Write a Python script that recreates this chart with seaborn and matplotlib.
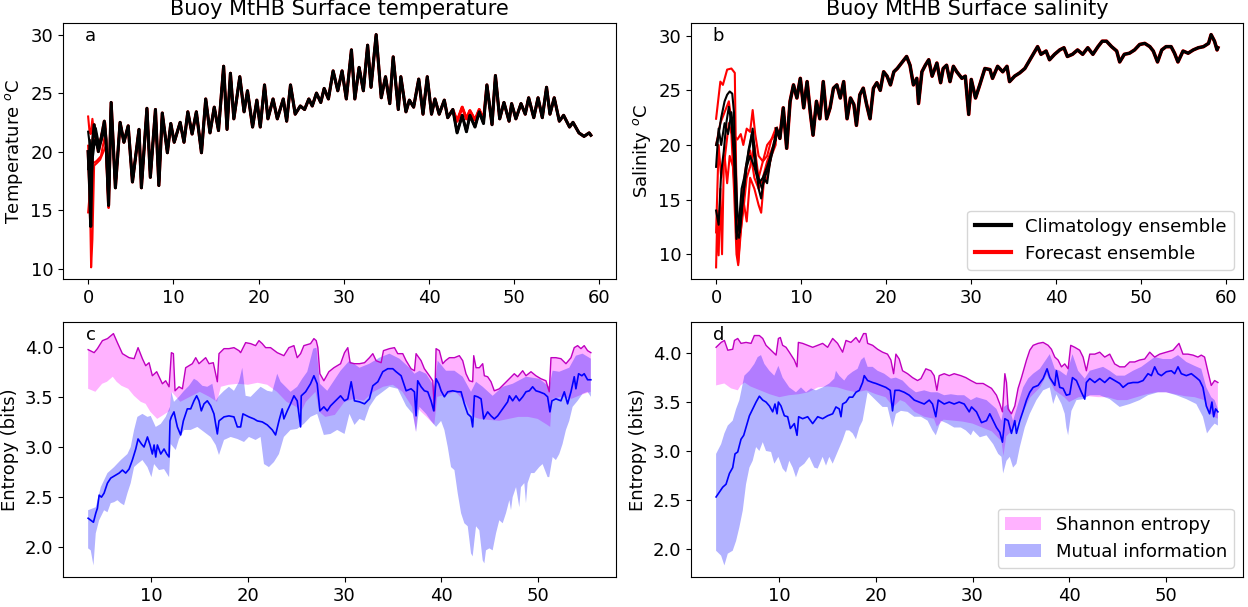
import numpy as np
import matplotlib
matplotlib.use("Agg")
import matplotlib.pyplot as plt
import seaborn as sns
from matplotlib.lines import Line2D
from matplotlib.patches import Patch

plt.rcParams["font.family"] = ["DejaVu Sans"]
plt.rcParams["font.size"] = 13

# ---------------- Panel a: surface temperature ----------------
temp_x = [0.0, 0.15, 0.3, 0.5, 0.7, 1.0, 1.2, 1.5, 1.9, 2.1, 2.4, 2.7, 3.2, 3.75, 4.2, 4.7, 5.2, 5.97, 6.25, 6.9,
          7.3, 7.9, 8.3, 8.7, 9.3, 9.7, 10.1, 10.8, 11.25, 11.7, 12.2, 12.7, 13.3, 13.8, 14.3, 14.8, 15.3, 15.9, 16.3, 16.7,
          17.1, 17.8, 18.3, 18.7, 19.3, 19.8, 20.2, 20.7, 21.1, 21.7, 22.2, 22.9, 23.3, 23.75, 24.3, 24.9, 25.4, 25.9, 26.3, 26.8,
          27.3, 27.7, 28.2, 28.75, 29.3, 29.8, 30.3, 30.9, 31.3, 31.8, 32.3, 32.8, 33.2, 33.8, 34.4, 34.9, 35.4, 35.8, 36.4, 36.7,
          37.3, 37.7, 38.2, 38.8, 39.3, 39.8, 40.3, 40.7, 41.2, 41.8, 42.2, 42.8, 43.3, 43.9, 44.4, 44.8, 45.4, 45.9, 46.4, 46.8,
          47.4, 47.8, 48.3, 48.8, 49.4, 49.7, 50.2, 50.8, 51.3, 51.7, 52.3, 52.8, 53.3, 53.8, 54.2, 54.7, 55.3, 55.8, 56.5, 56.9,
          57.6, 58.2, 58.8, 59.0]
temp_clim = [20.0, 17.5, 13.6, 20.5, 22.3, 21.0, 20.0, 21.0, 22.6, 21.0, 15.4, 24.2, 16.9, 22.5, 20.8, 22.2, 17.4, 21.9, 16.9, 23.7,
             17.8, 23.6, 17.1, 23.3, 19.9, 22.4, 20.8, 22.5, 20.8, 23.4, 21.5, 23.4, 19.9, 24.5, 21.6, 23.8, 21.8, 27.3, 21.9, 26.7,
             22.8, 26.4, 23.4, 25.2, 22.1, 24.4, 22.1, 25.7, 22.8, 24.5, 22.8, 24.5, 22.6, 25.7, 23.2, 23.9, 23.6, 24.5, 23.9, 25.0,
             24.2, 25.4, 24.5, 26.9, 25.2, 26.9, 24.5, 28.7, 24.5, 27.2, 25.2, 29.1, 25.5, 30.0, 24.6, 26.4, 24.1, 28.1, 23.6, 26.4,
             23.4, 24.4, 23.8, 26.2, 23.2, 26.4, 23.2, 24.5, 23.2, 24.4, 22.9, 23.6, 21.6, 23.1, 21.7, 23.1, 22.1, 23.4, 22.4, 25.7,
             22.3, 26.5, 22.8, 24.2, 22.6, 24.1, 22.8, 24.1, 23.2, 24.6, 22.9, 24.6, 22.9, 25.5, 23.2, 24.6, 22.6, 23.1, 22.1, 22.5,
             21.6, 21.3, 21.6, 21.4]
# forecast ensemble differs from climatology between days 43 and 47
temp_fcst_patch_x = [42.8, 43.3, 43.9, 44.4, 44.8, 45.4, 45.9, 46.4, 46.8]
temp_fcst_patch_y = [23.6, 22.6, 23.8, 22.8, 23.5, 22.7, 23.6, 22.7, 25.7]
# early-time ensemble members (first days, before members converge)
temp_clim_b_x = [0.0, 0.2, 0.4, 0.6, 0.9, 1.3, 1.7, 2.1, 2.4]
temp_clim_b_y = [21.7, 20.5, 19.0, 21.5, 22.0, 20.5, 21.8, 21.2, 15.4]
temp_clim_c_x = [0.0, 0.2, 0.35, 0.55, 0.8, 1.1, 1.5, 2.0, 2.4]
temp_clim_c_y = [18.5, 21.0, 17.0, 19.5, 21.0, 20.3, 20.8, 22.0, 15.4]
temp_fcst_a_x = [0.0, 0.15, 0.3, 0.5, 0.8, 1.2, 1.6, 2.0, 2.4]
temp_fcst_a_y = [23.0, 21.8, 21.5, 22.8, 21.0, 20.2, 21.5, 22.5, 15.2]
temp_fcst_b_x = [0.0, 0.2, 0.35, 0.5, 0.7, 1.0, 1.4, 1.8, 2.1, 2.4]
temp_fcst_b_y = [14.8, 16.5, 10.1, 12.5, 18.8, 19.0, 19.3, 20.0, 20.5, 15.2]
temp_fcst_c_x = [0.0, 0.2, 0.4, 0.6, 1.0, 1.5, 2.0, 2.4]
temp_fcst_c_y = [20.5, 17.0, 19.5, 19.0, 19.2, 19.6, 21.5, 15.2]

# ---------------- Panel b: surface salinity ----------------
sal_x = [7.1, 7.5, 7.9, 8.3, 8.7, 9.1, 9.5, 9.9, 10.3, 10.7, 11.1, 11.4, 11.8, 12.2, 12.6, 13.0, 13.4, 13.8, 14.2, 14.6,
         15.0, 15.4, 15.8, 16.2, 16.5, 16.9, 17.3, 17.7, 18.1, 18.5, 18.9, 19.3, 19.7, 20.1, 20.5, 20.9, 21.3, 21.8, 22.4, 22.8,
         23.2, 23.6, 23.8, 24.2, 24.6, 25.0, 25.4, 25.96, 26.4, 26.7, 27.1, 27.5, 27.9, 28.3, 28.9, 29.3, 29.7, 30.0, 30.5, 31.0,
         31.6, 32.2, 32.5, 33.1, 33.7, 34.2, 34.5, 35.1, 35.7, 36.3, 36.9, 37.5, 37.8, 38.2, 38.8, 39.2, 39.8, 40.4, 40.9, 41.3,
         41.9, 42.5, 43.1, 43.7, 44.3, 44.9, 45.4, 45.9, 46.5, 47.1, 47.45, 48.0, 48.6, 49.2, 49.8, 50.4, 51.0, 51.4, 51.9, 52.4,
         52.9, 53.5, 53.9, 54.3, 54.9, 55.5, 56.1, 56.7, 57.3, 57.9, 58.2, 58.6, 58.9, 59.0]
sal_clim = [21.5, 20.6, 23.4, 19.7, 24.0, 25.5, 24.3, 26.1, 23.4, 25.8, 22.8, 20.9, 24.0, 22.4, 25.8, 22.4, 23.4, 25.2, 25.5, 24.3,
            25.8, 22.4, 24.3, 23.7, 21.8, 24.6, 25.2, 23.7, 22.4, 25.2, 25.7, 25.0, 26.7, 26.3, 25.5, 26.7, 27.0, 27.5, 28.1, 27.3,
            25.5, 26.1, 23.8, 26.7, 27.3, 27.8, 26.3, 27.5, 25.7, 27.0, 27.3, 25.8, 27.2, 26.7, 26.1, 26.3, 22.8, 26.0, 24.3, 25.5,
            27.0, 26.9, 26.1, 27.2, 26.7, 27.2, 25.8, 26.3, 26.6, 27.0, 27.8, 28.6, 29.0, 28.3, 28.6, 27.8, 28.3, 28.7, 28.9, 28.1,
            28.3, 28.7, 28.3, 28.9, 28.3, 29.0, 29.5, 29.5, 29.0, 28.6, 27.6, 28.3, 28.4, 28.7, 29.2, 29.3, 29.0, 28.6, 27.6, 28.7,
            29.0, 29.0, 28.4, 27.6, 28.6, 28.4, 28.7, 28.9, 29.0, 29.3, 30.1, 29.5, 28.7, 28.9]
# early members (days 0-7)
sal_fcst_1_x = [0.0, 0.5, 0.8, 1.3, 1.8, 2.2, 2.35, 2.6, 2.8, 3.2, 3.6, 4.0, 4.5, 5.0, 5.5, 6.0, 6.5, 7.0]
sal_fcst_1_y = [22.4, 25.8, 25.5, 26.9, 27.0, 26.6, 18.0, 9.2, 11.5, 14.0, 17.0, 18.0, 20.0, 17.0, 18.5, 19.0, 20.5, 21.0]
sal_fcst_2_x = [0.0, 0.15, 0.3, 0.5, 0.7, 0.9, 1.2, 1.5, 1.8, 2.1, 2.4, 2.6, 2.9, 3.2, 3.6, 4.0, 4.5, 5.0, 5.3, 5.6, 6.0, 6.5, 7.0]
sal_fcst_2_y = [8.8, 14.0, 9.9, 16.0, 10.0, 18.0, 20.0, 22.0, 21.0, 16.0, 10.0, 9.0, 12.0, 15.0, 13.0, 17.0, 16.0, 14.5, 13.8, 16.5, 17.0, 19.0, 20.0]
sal_fcst_3_x = [0.0, 0.5, 1.0, 1.5, 2.0, 2.5, 2.9, 3.2, 3.6, 4.0, 4.3, 4.6, 5.0, 5.5, 6.0, 6.5, 7.0]
sal_fcst_3_y = [20.0, 22.0, 23.0, 24.0, 21.0, 20.5, 21.0, 20.0, 21.5, 21.2, 23.2, 21.0, 19.0, 18.5, 20.0, 20.5, 21.5]
sal_fcst_4_x = [0.0, 0.3, 0.6, 1.0, 1.3, 1.6, 2.0, 2.4, 2.7, 3.0, 3.5, 4.0, 4.5, 5.0, 5.5, 6.0, 7.0]
sal_fcst_4_y = [12.0, 20.0, 17.0, 19.0, 16.5, 19.0, 18.0, 14.0, 11.0, 15.0, 18.0, 19.5, 17.0, 16.0, 17.0, 18.5, 20.5]
sal_clim_1_x = [0.0, 0.3, 0.6, 1.0, 1.3, 1.6, 1.9, 2.1, 2.4, 2.7, 3.0, 3.3, 3.6, 4.0, 4.3, 4.6, 5.0, 5.3, 5.6, 6.0, 6.4, 7.0]
sal_clim_1_y = [20.0, 21.0, 22.5, 24.0, 24.6, 24.9, 24.7, 23.0, 11.4, 13.0, 16.0, 17.0, 18.5, 20.0, 21.5, 19.0, 16.0, 15.1, 17.0, 16.5, 18.8, 21.0]
sal_clim_2_x = [0.0, 0.3, 0.6, 0.9, 1.2, 1.5, 1.8, 2.1, 2.4, 2.7, 3.0, 3.4, 3.8, 4.2, 4.6, 5.0, 5.4, 5.8, 6.2, 7.0]
sal_clim_2_y = [14.0, 12.7, 17.5, 19.4, 22.0, 23.5, 22.0, 19.0, 12.0, 11.5, 14.0, 16.9, 19.5, 21.0, 18.0, 17.0, 16.0, 17.2, 18.0, 20.5]
sal_clim_3_x = [0.0, 0.3, 0.6, 1.0, 1.4, 1.8, 2.2, 2.5, 2.8, 3.2, 3.6, 4.0, 4.5, 5.0, 5.5, 6.0, 7.0]
sal_clim_3_y = [18.0, 21.5, 20.0, 22.0, 21.0, 23.0, 20.0, 14.0, 12.0, 15.5, 18.0, 19.0, 18.0, 16.5, 17.0, 18.0, 20.5]

# ---------------- Panel c: temperature entropy ----------------
c_H_up_x = [3.45, 4.07, 4.41, 4.93, 5.45, 6.07, 6.48, 7.0, 7.69, 8.21, 8.62, 9.07, 9.41, 9.76, 10.1, 10.55, 11.14, 11.48, 11.83, 12.07,
            12.28, 12.45, 12.86, 13.21, 13.55, 13.9, 14.24, 14.59, 14.93, 15.28, 15.62, 15.97, 16.41, 16.83, 17.0, 17.52, 18.03, 18.55, 19.07, 19.24,
            19.76, 20.28, 20.79, 21.14, 21.48, 21.83, 22.34, 23.03, 23.72, 24.24, 24.76, 25.1, 25.45, 25.79, 26.48, 26.83, 27.07, 27.24, 27.45, 27.86,
            28.38, 28.9, 29.59,
            30.0, 30.34, 30.58, 31.03, 31.55, 32.07, 32.58, 32.93, 33.27, 33.79, 34.03, 34.65, 35.17, 35.51, 36.03, 36.38, 36.89, 37.24, 37.41, 37.93,
            38.27, 38.79, 39.14, 39.31, 39.48, 39.82, 40.17, 40.45, 40.86, 41.38, 41.89, 42.24, 42.58, 42.93, 43.27, 43.38, 43.62, 43.96, 44.31, 44.48,
            44.82, 45.17, 45.51, 46.03, 46.55, 47.07, 47.58, 47.93, 48.45, 48.79, 49.31, 49.82, 50.34, 50.86, 51.2, 51.38, 51.89, 52.41, 52.93, 53.45,
            53.79, 54.14, 54.48, 54.82, 55.17, 55.51]
c_H_up_y = [3.97, 3.94, 3.98, 4.06, 4.08, 4.13, 4.04, 3.93, 3.89, 3.88, 3.99, 3.88, 3.81, 3.84, 3.71, 3.75, 3.63, 3.66, 3.60, 3.94,
            3.93, 3.56, 3.60, 3.58, 3.79, 3.81, 3.83, 3.89, 3.83, 3.86, 3.89, 3.83, 3.84, 3.65, 3.93, 3.98, 3.98, 3.99, 3.96, 3.94,
            4.04, 4.03, 4.01, 4.06, 4.03, 3.99, 3.99, 3.94, 3.91, 3.99, 4.01, 3.89, 3.93, 4.01, 4.03, 4.08, 4.06, 3.99, 3.73, 3.66,
            3.75, 3.79, 3.83,
            3.94, 3.99, 3.84, 3.83, 3.83, 3.84, 3.89, 3.93, 3.86, 3.84, 3.96, 3.98, 3.99, 3.93, 3.93, 3.86, 3.78, 3.76, 3.93, 3.86,
            3.78, 3.71, 3.66, 3.36, 3.98, 3.96, 3.83, 3.86, 3.89, 3.89, 3.91, 3.86, 3.73, 3.66, 3.65, 3.91, 3.79, 3.79, 3.83, 3.71,
            3.70, 3.65, 3.56, 3.58, 3.63, 3.68, 3.73, 3.70, 3.76, 3.71, 3.75, 3.71, 3.68, 3.66, 3.55, 3.89, 3.89, 3.88, 3.83, 3.89,
            3.99, 4.01, 3.98, 4.01, 3.96, 3.94]
c_H_lo_x = [3.45, 4.2, 4.9, 5.4, 6.0, 6.4, 6.9, 7.6, 8.2, 8.9, 9.4, 9.9, 10.6, 11.1, 11.9, 12.1, 13.0, 14.0, 15.0, 16.0,
            16.8, 17.2, 18.0, 19.0, 20.0, 21.0, 22.0, 23.0, 24.0, 25.0, 25.5, 26.0, 27.0, 27.4, 28.0, 29.0, 30.0, 31.0, 32.0, 33.0,
            34.0, 35.0, 36.0, 37.0, 37.4, 37.6, 38.5, 39.3, 39.6, 40.5, 41.5, 42.5, 43.3, 44.0, 45.0, 46.0, 47.0, 48.0, 49.0, 50.0,
            51.0, 51.3, 51.5, 52.5, 53.5, 54.5, 55.5]
c_H_lo_y = [3.58, 3.55, 3.63, 3.65, 3.70, 3.65, 3.61, 3.58, 3.51, 3.45, 3.43, 3.35, 3.28, 3.31, 3.36, 3.55, 3.45, 3.50, 3.55, 3.50,
            3.45, 3.60, 3.62, 3.63, 3.62, 3.64, 3.62, 3.55, 3.45, 3.40, 3.35, 3.45, 3.55, 3.35, 3.30, 3.32, 3.45, 3.48, 3.46, 3.55,
            3.60, 3.62, 3.55, 3.40, 3.15, 3.38, 3.30, 3.22, 3.50, 3.52, 3.55, 3.45, 3.30, 3.28, 3.27, 3.26, 3.28, 3.30, 3.30, 3.28,
            3.22, 3.20, 3.48, 3.50, 3.48, 3.52, 3.55]
c_MI_x = [3.45, 3.72, 4.0, 4.24, 4.41, 4.59, 4.83, 5.1, 5.45, 5.79, 6.31, 6.66, 7.0, 7.34, 7.69, 8.03, 8.38, 8.62, 8.97, 9.24,
          9.59, 9.86, 10.1, 10.28, 10.45, 10.62, 10.97, 11.31, 11.59, 11.83, 11.93, 12.07, 12.34, 12.69, 13.03, 13.31, 13.72, 14.07, 14.41, 14.69,
          14.93, 15.17, 15.45, 15.79, 16.14, 16.48, 16.83, 17.0, 17.52, 18.03, 18.55, 18.9, 19.24, 19.48, 20.1, 20.62, 20.97, 21.48, 22.0, 22.52,
          22.86, 23.21, 23.55, 23.72, 24.07, 24.41, 24.76, 25.1, 25.45, 25.52, 25.97, 26.48, 26.83, 27.17, 27.45, 27.86, 28.21, 28.55, 29.07, 29.59,
          30.0, 30.34, 30.69, 31.03, 31.55, 32.07, 32.58, 32.93, 33.45, 33.96, 34.48, 35.0, 35.34, 35.86, 36.38, 36.89, 37.24, 37.41, 37.58, 37.93,
          38.27, 38.62, 38.96, 39.24, 39.48, 39.76, 40.0, 40.34, 40.69, 41.2, 41.72, 42.07, 42.41, 42.76, 43.1, 43.27, 43.45, 43.79, 44.14, 44.41,
          44.82, 45.17, 45.51, 45.86, 46.38, 46.89, 47.07, 47.41, 47.76, 48.1, 48.45, 48.79, 49.14, 49.48, 49.82, 50.17, 50.69, 51.03, 51.27, 51.48,
          51.89, 52.41, 52.76, 53.1, 53.45, 53.79, 53.96, 54.24, 54.58, 54.82, 55.17, 55.51]
c_MI_y = [2.29, 2.27, 2.25, 2.34, 2.39, 2.52, 2.50, 2.54, 2.64, 2.69, 2.72, 2.74, 2.77, 2.74, 2.78, 2.87, 2.98, 3.08, 3.03, 3.00,
          3.10, 3.02, 2.93, 3.02, 2.90, 3.02, 2.93, 2.98, 2.93, 2.90, 3.26, 3.30, 3.35, 3.20, 3.12, 3.26, 3.38, 3.38, 3.46, 3.51,
          3.46, 3.36, 3.43, 3.46, 3.41, 3.33, 3.13, 3.26, 3.30, 3.31, 3.30, 3.20, 3.20, 3.33, 3.30, 3.28, 3.26, 3.25, 3.22, 3.17,
          3.12, 3.26, 3.38, 3.28, 3.36, 3.43, 3.51, 3.46, 3.20, 3.51, 3.55, 3.63, 3.71, 3.63, 3.36, 3.40, 3.36, 3.41, 3.46, 3.51,
          3.46, 3.48, 3.65, 3.46, 3.45, 3.43, 3.48, 3.61, 3.65, 3.75, 3.78, 3.78, 3.75, 3.71, 3.56, 3.58, 3.55, 3.31, 3.66, 3.60,
          3.56, 3.55, 3.46, 3.36, 3.68, 3.63, 3.56, 3.50, 3.55, 3.56, 3.55, 3.55, 3.43, 3.33, 3.30, 3.20, 3.51, 3.50, 3.48, 3.28,
          3.35, 3.31, 3.28, 3.31, 3.38, 3.45, 3.51, 3.46, 3.51, 3.46, 3.50, 3.55, 3.56, 3.60, 3.56, 3.55, 3.53, 3.50, 3.35, 3.46,
          3.48, 3.46, 3.55, 3.43, 3.55, 3.70, 3.58, 3.73, 3.71, 3.73, 3.67, 3.67]
c_MI_up_x = [3.45, 4.24, 4.76, 5.45, 6.14, 6.83, 7.52, 7.86, 8.21, 8.55, 9.07, 9.59, 9.93, 10.45, 10.97, 11.48, 11.93, 12.07, 12.34, 12.86,
             13.38, 13.9, 14.41, 14.76, 15.28, 15.79, 16.31, 16.66, 17.0, 17.52, 18.03, 18.55, 19.07, 19.41, 19.76, 20.28, 20.79, 21.31, 22.0, 22.52,
             23.03, 23.38, 23.9, 24.41, 25.1, 25.62, 26.14, 26.76, 27.1, 27.45, 28.21, 28.9, 29.59,
             30.51, 31.55, 32.58, 33.62, 34.65, 35.69, 36.72, 37.24, 37.76, 38.45, 39.31, 39.65, 40.51, 41.38, 42.24, 43.1, 43.62, 44.31, 45.34, 46.38,
             47.41, 48.79, 50.17, 51.2, 51.55, 52.24, 53.27, 53.96, 54.65, 55.51]
c_MI_up_y = [2.37, 2.40, 2.60, 2.74, 2.80, 2.87, 2.93, 3.00, 3.17, 3.30, 3.33, 3.30, 3.31, 3.20, 3.23, 3.30, 3.40, 3.55, 3.45, 3.50,
             3.56, 3.61, 3.68, 3.66, 3.61, 3.60, 3.63, 3.46, 3.51, 3.56, 3.60, 3.56, 3.65, 3.79, 3.51, 3.50, 3.55, 3.60, 3.56, 3.55,
             3.73, 3.65, 3.60, 3.55, 3.60, 3.68, 3.75, 3.98, 3.99, 3.63, 3.56, 3.66, 3.76,
             3.86, 3.79, 3.83, 3.89, 3.93, 3.88, 3.79, 3.73, 3.76, 3.73, 3.60, 3.86, 3.76, 3.76, 3.70, 3.55, 3.65, 3.60, 3.51, 3.60,
             3.63, 3.70, 3.68, 3.60, 3.76, 3.75, 3.79, 3.91, 3.93, 3.88]
c_MI_lo_x = [3.45, 3.72, 4.0, 4.24, 4.59, 5.1, 5.45, 5.79, 6.14, 6.48, 6.83, 7.17, 7.52, 7.86, 8.21, 8.55, 9.07, 9.59, 10.0, 10.28,
             10.79, 11.31, 11.83, 12.0, 12.52, 12.86, 13.38, 14.07, 14.76, 15.45, 16.14, 16.66, 17.0, 17.52, 18.21, 18.9, 19.59, 20.1, 20.79, 21.31,
             21.66, 22.17, 22.69, 23.21, 23.72, 24.41, 25.1, 25.79, 26.48, 27.17, 27.86, 28.55, 29.24,
             30.0, 30.51, 31.03, 31.55, 32.07, 32.58, 33.27, 33.96, 34.65, 35.51, 36.38, 37.07, 37.41, 37.76, 38.45, 38.96, 39.48, 40.0, 40.34, 40.69,
             41.03, 41.38, 41.72, 42.07, 42.41, 42.76, 43.1, 43.27, 43.62, 43.96, 44.31, 44.48, 44.65, 45.0, 45.34, 45.69, 46.03, 46.38, 46.72, 47.07,
             47.24, 47.41, 47.76, 48.1, 48.27, 48.62, 48.79, 48.96, 49.31, 49.65, 50.17, 50.51, 51.03, 51.2, 51.55, 51.89, 52.24, 52.58, 52.93, 53.27,
             53.62, 54.14, 54.65, 55.17, 55.51]
c_MI_lo_y = [1.99, 1.97, 1.82, 2.14, 2.27, 2.37, 2.35, 2.44, 2.45, 2.47, 2.44, 2.42, 2.54, 2.64, 2.80, 2.83, 2.87, 2.80, 2.70, 2.83,
             2.77, 2.78, 2.70, 3.03, 2.97, 3.08, 3.17, 3.17, 3.20, 3.15, 3.10, 3.02, 2.92, 3.07, 3.10, 3.08, 3.05, 3.10, 3.07, 3.10,
             2.83, 2.80, 2.85, 2.93, 3.10, 3.17, 3.18, 3.23, 3.30, 3.33, 3.12, 3.13, 3.17,
             3.13, 3.33, 3.22, 3.28, 3.26, 3.40, 3.50, 3.55, 3.60, 3.58, 3.41, 3.33, 3.15, 3.40, 3.33, 3.26, 3.20, 3.26, 3.17, 3.00,
             2.80, 2.77, 2.54, 2.34, 2.24, 2.21, 1.94, 1.91, 2.21, 2.17, 1.87, 1.84, 1.97, 1.99, 1.97, 2.14, 2.27, 2.24, 2.34, 2.47,
             2.37, 2.50, 2.60, 2.40, 2.60, 2.64, 2.44, 2.64, 2.74, 2.74, 2.80, 2.83, 2.70, 2.70, 2.90, 2.87, 2.93, 3.03, 3.17, 3.26,
             3.40, 3.46, 3.53, 3.55, 3.50]

# ---------------- Panel d: salinity entropy ----------------
d_H_up_x = [3.45, 3.97, 4.31, 4.66, 5.17, 5.35, 5.69, 6.03, 6.55, 7.07, 7.41, 7.93, 8.28, 8.62, 9.14, 9.66, 9.9, 10.1, 10.34, 10.69,
            11.03, 11.55, 11.83, 11.97, 12.41, 12.93, 13.45, 13.97, 14.48, 15.0, 15.52, 16.03, 16.55, 16.9, 17.41, 17.93, 18.28, 18.72, 18.97, 19.14,
            19.66, 20.17, 20.69, 21.2, 21.55, 21.83, 22.07, 22.41, 22.76, 23.28, 23.79, 24.31, 24.66, 25.17, 25.69, 26.03, 26.31, 26.55, 27.07, 27.59,
            28.1, 28.79, 29.31, 29.83,
            30.41, 31.1, 31.97, 32.48, 32.83, 33.1, 33.35, 33.52, 33.69, 34.03, 34.38, 34.72, 35.07, 35.59, 35.93, 36.28, 36.79, 37.31, 37.83, 38.17,
            38.52, 38.86, 39.21, 39.55, 39.9, 40.17, 40.59, 41.1, 41.45, 41.79, 42.14, 42.66, 43.17, 43.69, 44.21, 44.72, 45.24, 45.76, 46.28, 46.79,
            47.31, 47.83, 48.35, 48.86, 49.38, 50.07, 50.76, 51.38, 51.79, 52.31, 52.83, 53.34, 53.69, 54.03, 54.38, 54.72, 55.07, 55.41]
d_H_up_y = [4.06, 4.11, 4.13, 4.03, 4.04, 4.13, 4.15, 4.10, 4.11, 4.10, 4.18, 4.18, 4.15, 4.08, 4.03, 3.98, 4.15, 4.16, 4.08, 4.06,
            4.01, 3.93, 3.86, 4.11, 4.10, 4.08, 4.06, 4.08, 4.10, 4.06, 4.15, 4.10, 4.01, 4.13, 4.11, 4.16, 4.11, 4.20, 4.20, 4.10,
            4.08, 4.04, 4.01, 3.99, 3.93, 3.79, 3.99, 3.94, 3.82, 3.79, 3.75, 3.72, 3.74, 3.84, 3.82, 3.77, 3.62, 3.77, 3.79, 3.77,
            3.79, 3.77, 3.75, 3.72,
            3.69, 3.69, 3.64, 3.57, 3.48, 3.40, 3.79, 3.70, 3.43, 3.38, 3.46, 3.64, 3.75, 3.93, 4.03, 4.08, 4.10, 4.11, 4.08, 4.04,
            3.96, 3.93, 3.86, 3.89, 3.84, 4.08, 4.06, 4.03, 3.96, 3.82, 3.99, 3.99, 4.01, 3.96, 3.99, 3.89, 3.86, 3.86, 3.91, 3.91,
            3.93, 3.94, 4.01, 3.96, 3.99, 4.01, 4.03, 4.10, 3.99, 3.99, 3.98, 3.96, 3.98, 3.96, 3.81, 3.67, 3.72, 3.70]
d_H_lo_x = [3.45, 4.3, 5.0, 5.7, 6.0, 6.4, 7.0, 8.0, 9.0, 10.0, 11.0, 12.0, 13.0, 14.0, 15.0, 16.0, 17.0, 18.0, 19.0, 20.0,
            21.0, 21.8, 22.5, 23.0, 24.0, 25.0, 26.0, 26.3, 27.0, 28.0, 29.0, 30.0, 31.0, 32.0, 33.0, 33.2, 33.5, 34.0, 35.0, 36.0,
            37.0, 37.7, 38.5, 39.5, 40.0, 41.0, 42.0, 43.0, 44.0, 45.0, 46.0, 47.0, 48.0, 49.0, 50.0, 51.0, 52.0, 53.0, 54.0, 54.5,
            55.0, 55.41]
d_H_lo_y = [3.67, 3.69, 3.64, 3.62, 3.67, 3.70, 3.66, 3.62, 3.58, 3.55, 3.57, 3.58, 3.60, 3.65, 3.66, 3.65, 3.62, 3.60, 3.62, 3.58,
            3.55, 3.45, 3.52, 3.50, 3.40, 3.35, 3.33, 3.25, 3.32, 3.31, 3.30, 3.28, 3.24, 3.20, 3.10, 2.95, 3.15, 3.20, 3.35, 3.55,
            3.65, 3.78, 3.62, 3.55, 3.50, 3.55, 3.56, 3.55, 3.55, 3.52, 3.52, 3.55, 3.58, 3.60, 3.60, 3.58, 3.56, 3.55, 3.52, 3.40,
            3.35, 3.33]
d_MI_x = [3.45, 3.79, 4.14, 4.48, 4.83, 5.17, 5.41, 5.69, 6.03, 6.31, 6.55, 6.9, 7.24, 7.59, 7.93, 8.28, 8.62, 8.97, 9.31, 9.55,
          9.76, 9.9, 10.17, 10.52, 10.86, 11.14, 11.55, 11.83, 12.0, 12.41, 12.93, 13.45, 13.97, 14.48, 15.0, 15.52, 15.86, 16.2, 16.38, 16.55,
          16.9, 17.24, 17.59, 17.93, 18.28, 18.62, 18.79, 19.14, 19.66, 20.0, 20.52, 21.03, 21.48, 21.72, 21.97, 22.41, 22.93, 23.45, 23.97, 24.48,
          25.0, 25.52, 25.86, 26.2, 26.45, 27.07, 27.59, 28.1, 28.62, 29.14, 29.66,
          29.9, 30.41, 30.93, 31.45, 31.79, 32.14, 32.48, 32.83, 33.1, 33.35, 33.69, 34.03, 34.38, 34.55, 34.9, 35.24, 35.59, 35.93, 36.28, 36.79,
          37.31, 37.72, 38.0, 38.52, 38.69, 39.03, 39.38, 39.72, 40.07, 40.35, 40.76, 41.28, 41.62, 41.79, 42.14, 42.66, 43.17, 43.69, 44.21, 44.72,
          45.24, 45.59, 46.1, 46.62, 47.14, 47.66, 48.17, 48.52, 48.86, 49.21, 49.55, 50.07, 50.59, 50.93, 51.28, 51.62, 52.14, 52.66, 53.17, 53.52,
          53.86, 54.21, 54.55, 54.79, 54.97, 55.17, 55.41]
d_MI_y = [2.53, 2.58, 2.63, 2.66, 2.77, 2.83, 2.97, 2.99, 3.12, 3.16, 3.24, 3.36, 3.43, 3.50, 3.56, 3.52, 3.50, 3.46, 3.40, 3.48,
          3.38, 3.50, 3.46, 3.36, 3.35, 3.23, 3.28, 3.16, 3.35, 3.33, 3.35, 3.28, 3.35, 3.33, 3.36, 3.38, 3.45, 3.43, 3.35, 3.48,
          3.50, 3.55, 3.55, 3.60, 3.62, 3.70, 3.77, 3.72, 3.70, 3.69, 3.67, 3.65, 3.62, 3.41, 3.62, 3.62, 3.60, 3.57, 3.52, 3.50,
          3.48, 3.52, 3.48, 3.35, 3.52, 3.48, 3.50, 3.48, 3.50, 3.48, 3.40,
          3.45, 3.40, 3.29, 3.31, 3.38, 3.31, 3.24, 3.19, 3.09, 3.33, 3.31, 3.18, 3.31, 3.18, 3.31, 3.41, 3.52, 3.60, 3.65, 3.67,
          3.74, 3.84, 3.75, 3.67, 3.82, 3.65, 3.64, 3.57, 3.58, 3.75, 3.72, 3.60, 3.53, 3.70, 3.74, 3.70, 3.74, 3.70, 3.75, 3.72,
          3.69, 3.65, 3.69, 3.70, 3.70, 3.72, 3.79, 3.77, 3.86, 3.79, 3.77, 3.81, 3.82, 3.79, 3.86, 3.79, 3.77, 3.79, 3.75, 3.72,
          3.65, 3.46, 3.38, 3.50, 3.35, 3.43, 3.40]
d_MI_up_x = [3.45, 3.97, 4.31, 4.66, 5.17, 5.52, 5.86, 6.38, 6.9, 7.41, 7.76, 8.1, 8.45, 8.97, 9.48, 9.9, 10.34, 11.03, 11.72, 12.24,
             12.76, 13.28, 13.79, 14.48, 15.17, 15.69, 15.86, 16.2, 16.72, 17.07, 17.59, 18.1, 18.45, 18.79, 19.14, 19.66, 20.17, 20.86, 21.55, 22.07,
             22.76, 23.45, 24.14, 25.0, 25.69, 26.38, 27.07, 27.76, 28.45, 29.14, 29.83,
             30.41, 31.45, 32.48, 33.0, 33.24, 33.69, 34.2, 34.72, 35.24, 35.76, 36.28, 36.97, 37.66, 38.0, 38.52, 39.03, 39.72, 40.35, 40.93, 41.62,
             42.14, 42.83, 43.52, 44.21, 44.9, 45.76, 46.62, 47.48, 48.17, 48.86, 49.72, 50.59, 51.28, 52.14, 53.0, 53.69, 54.21, 54.72, 55.07, 55.41]
d_MI_up_y = [2.97, 3.07, 3.18, 3.26, 3.31, 3.43, 3.52, 3.77, 3.82, 3.89, 3.96, 3.98, 3.89, 3.82, 3.77, 3.87, 3.75, 3.65, 3.60, 3.65,
             3.60, 3.64, 3.62, 3.65, 3.69, 3.74, 3.82, 3.77, 3.72, 3.77, 3.81, 3.84, 3.93, 3.96, 3.86, 3.86, 3.82, 3.79, 3.74, 3.75,
             3.72, 3.65, 3.60, 3.62, 3.60, 3.60, 3.57, 3.58, 3.57, 3.57, 3.52,
             3.55, 3.52, 3.43, 3.31, 3.45, 3.48, 3.31, 3.48, 3.65, 3.74, 3.79, 3.84, 3.94, 3.99, 3.84, 3.82, 3.77, 3.99, 3.82, 3.74,
             3.82, 3.84, 3.86, 3.82, 3.77, 3.77, 3.82, 3.86, 3.91, 3.96, 3.94, 3.94, 3.98, 3.91, 3.87, 3.84, 3.65, 3.55, 3.52, 3.43]
d_MI_lo_x = [3.45, 3.97, 4.31, 4.66, 5.17, 5.52, 5.86, 6.21, 6.55, 6.9, 7.24, 7.59, 7.93, 8.28, 8.62, 9.14, 9.48, 9.9, 10.34, 10.69,
             11.03, 11.38, 11.72, 12.07, 12.59, 13.1, 13.62, 13.97, 14.48, 14.83, 15.17, 15.52, 16.03, 16.55, 16.9, 17.24, 17.59, 17.93, 18.28, 18.62,
             19.14, 19.66, 20.17, 20.69, 21.2, 21.72, 22.07, 22.59, 23.28, 23.97, 24.66, 25.35, 25.86, 26.2, 26.72, 27.41, 28.1, 28.79, 29.31, 29.83,
             30.07, 30.76, 31.45, 32.14, 32.66, 33.0, 33.17, 33.52, 33.86, 34.2, 34.55, 34.9, 35.41, 35.93, 36.62, 37.31, 38.0, 38.35, 38.69, 39.21,
             39.55, 39.72, 39.9, 40.24, 40.76, 41.45, 42.14, 43.17, 44.21, 45.24, 46.28, 47.31, 48.17, 49.21, 50.07, 51.1, 52.14, 53.17, 53.86, 54.28,
             54.72, 55.07, 55.41]
d_MI_lo_y = [1.98, 1.93, 1.83, 1.95, 1.98, 2.08, 2.22, 2.39, 2.66, 2.83, 2.90, 3.04, 3.00, 3.09, 3.00, 2.99, 2.87, 2.94, 2.82, 2.78,
             2.90, 2.83, 2.73, 2.83, 2.87, 2.94, 2.83, 2.82, 2.94, 2.85, 2.94, 2.87, 2.99, 3.11, 3.21, 3.21, 3.18, 3.12, 3.24, 3.31,
             3.60, 3.55, 3.50, 3.45, 3.45, 3.24, 3.38, 3.41, 3.40, 3.35, 3.35, 3.31, 3.21, 3.16, 3.31, 3.28, 3.24, 3.24, 3.21, 3.16,
             3.21, 3.14, 3.16, 3.07, 2.97, 2.94, 2.77, 2.90, 2.94, 2.83, 2.87, 3.04, 3.24, 3.38, 3.52, 3.62, 3.65, 3.48, 3.58, 3.48,
             3.38, 3.24, 3.16, 3.41, 3.52, 3.53, 3.57, 3.57, 3.53, 3.45, 3.48, 3.52, 3.57, 3.60, 3.60, 3.57, 3.53, 3.48, 3.35, 3.18,
             3.24, 3.28, 3.26]


def line(ax, x, y, color, lw):
    sns.lineplot(x=np.asarray(x, float), y=np.asarray(y, float), ax=ax, color=color,
                 linewidth=lw, sort=False, estimator=None, legend=False)


def band(ax, xu, yu, xl, yl, color):
    xs = np.r_[np.asarray(xu, float), np.asarray(xl, float)[::-1]]
    ys = np.r_[np.asarray(yu, float), np.asarray(yl, float)[::-1]]
    ax.fill(xs, ys, color=color, alpha=0.3, linewidth=0)


def tail(xm, ym, after):
    xm = np.asarray(xm, float)
    ym = np.asarray(ym, float)
    m = xm > after
    return xm[m], ym[m]


fig = plt.figure(figsize=(12.48, 6.07), dpi=100)
W, H = 1248.0, 607.0
ax_a = fig.add_axes([63 / W, 1 - 279 / H, 553 / W, 256 / H])
ax_b = fig.add_axes([691 / W, 1 - 279 / H, 552 / W, 256 / H])
ax_c = fig.add_axes([63 / W, 1 - 577 / H, 553 / W, 255 / H])
ax_d = fig.add_axes([691 / W, 1 - 577 / H, 552 / W, 255 / H])

# ---- panel a ----
tx, ty = np.asarray(temp_x, float), np.asarray(temp_clim, float)
px, py = np.asarray(temp_fcst_patch_x), np.asarray(temp_fcst_patch_y)
keep = (tx < px.min()) | (tx > px.max())
fx = np.r_[tx[keep], px]
fy = np.r_[ty[keep], py]
order = np.argsort(fx, kind="stable")
fx, fy = fx[order], fy[order]
line(ax_a, fx, fy, "red", 2.2)
for ex, ey in [(temp_fcst_a_x, temp_fcst_a_y), (temp_fcst_b_x, temp_fcst_b_y), (temp_fcst_c_x, temp_fcst_c_y)]:
    tx2, ty2 = tail(fx, fy, 2.4)
    line(ax_a, np.r_[ex, tx2], np.r_[ey, ty2], "red", 1.5)
for ex, ey in [(temp_clim_b_x, temp_clim_b_y), (temp_clim_c_x, temp_clim_c_y)]:
    tx2, ty2 = tail(tx, ty, 2.4)
    line(ax_a, np.r_[ex, tx2], np.r_[ey, ty2], "black", 1.5)
line(ax_a, tx, ty, "black", 2.2)
ax_a.set_title("Buoy MtHB Surface temperature", fontsize=15)
ax_a.set_ylabel("Temperature $^o$C")
ax_a.set_xticks([0, 10, 20, 30, 40, 50, 60])
ax_a.set_yticks([10, 15, 20, 25, 30])

# ---- panel b ----
sx, sy = np.asarray(sal_x, float), np.asarray(sal_clim, float)
line(ax_b, sx, sy, "red", 2.6)
for ex, ey in [(sal_fcst_1_x, sal_fcst_1_y), (sal_fcst_2_x, sal_fcst_2_y),
               (sal_fcst_3_x, sal_fcst_3_y), (sal_fcst_4_x, sal_fcst_4_y)]:
    line(ax_b, np.r_[ex, sx], np.r_[ey, sy], "red", 1.5)
for ex, ey in [(sal_clim_1_x, sal_clim_1_y), (sal_clim_2_x, sal_clim_2_y), (sal_clim_3_x, sal_clim_3_y)]:
    line(ax_b, np.r_[ex, sx], np.r_[ey, sy], "black", 1.5)
line(ax_b, sx, sy, "black", 2.2)
ax_b.set_title("Buoy MtHB Surface salinity", fontsize=15)
ax_b.set_ylabel("Salinity $^o$C")
ax_b.set_xticks([0, 10, 20, 30, 40, 50, 60])
ax_b.set_yticks([10, 15, 20, 25, 30])
ax_b.legend(handles=[Line2D([], [], color="black", lw=3), Line2D([], [], color="red", lw=3)],
            labels=["Climatology ensemble", "Forecast ensemble"], loc="lower right", fontsize=13)

# ---- panel c ----
band(ax_c, c_H_up_x, c_H_up_y, c_H_lo_x, c_H_lo_y, "magenta")
band(ax_c, c_MI_up_x, c_MI_up_y, c_MI_lo_x, c_MI_lo_y, "blue")
line(ax_c, c_H_up_x, c_H_up_y, "m", 1.0)
line(ax_c, c_MI_x, c_MI_y, "blue", 1.2)
ax_c.set_ylabel("Entropy (bits)")
ax_c.set_xticks([10, 20, 30, 40, 50])
ax_c.set_yticks([2.0, 2.5, 3.0, 3.5, 4.0])

# ---- panel d ----
band(ax_d, d_H_up_x, d_H_up_y, d_H_lo_x, d_H_lo_y, "magenta")
band(ax_d, d_MI_up_x, d_MI_up_y, d_MI_lo_x, d_MI_lo_y, "blue")
line(ax_d, d_H_up_x, d_H_up_y, "m", 1.0)
line(ax_d, d_MI_x, d_MI_y, "blue", 1.2)
ax_d.set_ylabel("Entropy (bits)")
ax_d.set_xticks([10, 20, 30, 40, 50])
ax_d.set_yticks([2.0, 2.5, 3.0, 3.5, 4.0])
ax_d.legend(handles=[Patch(facecolor="magenta", alpha=0.3), Patch(facecolor="blue", alpha=0.3)],
            labels=["Shannon entropy", "Mutual information"], loc="lower right", fontsize=13)

for ax, lab in zip([ax_a, ax_b, ax_c, ax_d], ["a", "b", "c", "d"]):
    ax.text(0.05, 0.95, lab, transform=ax.transAxes, va="center", ha="center", fontsize=13)
    ax.set_xlabel("")
    ax.tick_params(labelsize=13)

fig.savefig("out.png", dpi=100)
